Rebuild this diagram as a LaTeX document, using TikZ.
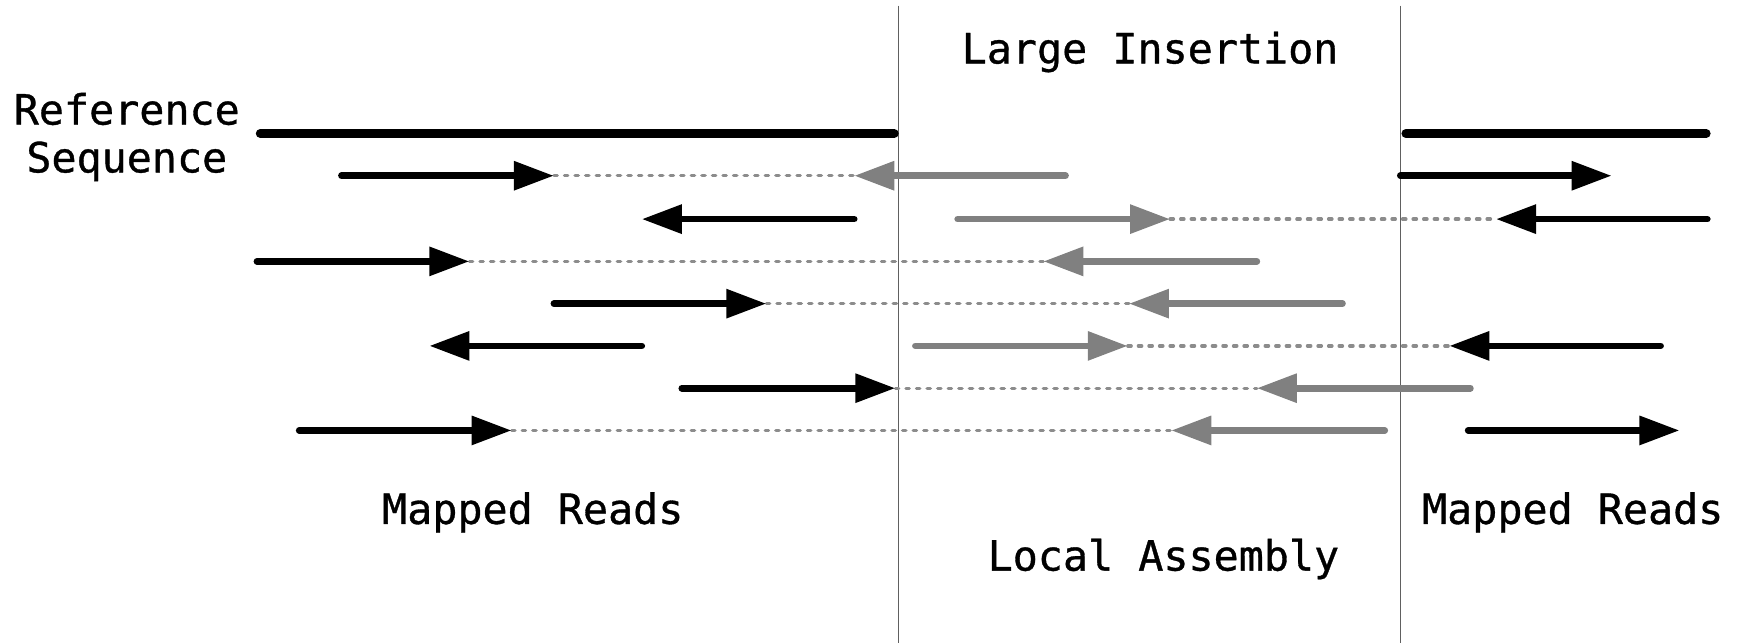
\documentclass[tikz,border=0pt]{standalone}
\usepackage{fontspec}
\setmonofont[FakeBold=0.8]{DejaVu Sans Mono}
\usetikzlibrary{arrows.meta}
\definecolor{readgray}{HTML}{808080}
\definecolor{mategray}{HTML}{8C8C8C}
\definecolor{divgray}{HTML}{606060}
\tikzset{
  lbl/.style={font=\ttfamily\fontsize{37.5}{46}\selectfont, inner sep=0pt, anchor=base},
  refline/.style={line width=8pt, line cap=round},
  readb/.style={line width=6pt, line cap=round, -{Triangle[length=36pt,width=25pt]}},
  readg/.style={readb, readgray},
  mate/.style={line width=3pt, mategray, line cap=round, dash pattern=on 3pt off 6.5pt},
  divider/.style={line width=0.9pt, divgray},
}
\begin{document}
\begin{tikzpicture}[x=1pt,y=-1pt]
\useasboundingbox (0,0) rectangle (1568,578);
% dividers
\coordinate (d1t) at (808,5);   \coordinate (d1b) at (808,578);
\coordinate (d2t) at (1259,5);  \coordinate (d2b) at (1259,578);
\draw[divider] (d1t) -- (d1b);
\draw[divider] (d2t) -- (d2b);
% labels
\node[lbl] (ref1) at (114,112) {Reference};
\node[lbl] (ref2) at (114,155) {Sequence};
\node[lbl] (ins) at (1034,57) {Large Insertion};
\node[lbl] (mapl) at (479,471) {Mapped Reads};
\node[lbl] (mapr) at (1414,471) {Mapped Reads};
\node[lbl] (asm) at (1046,513) {Local Assembly};
% reference sequence
\coordinate (s1) at (234,120); \coordinate (s2) at (804,120);
\coordinate (s3) at (1264,120); \coordinate (s4) at (1534,120);
\draw[refline] (s1) -- (s2);
\draw[refline] (s3) -- (s4);
% row 1
\coordinate (r1a) at (307,158); \coordinate (r1b) at (498,158);
\coordinate (r1c) at (768,158); \coordinate (r1d) at (958,158);
\coordinate (r1e) at (1259,158); \coordinate (r1f) at (1449,158);
\draw[mate] (r1b) -- (r1c);
\draw[readb] (r1a) -- (r1b);
\draw[readg] (r1d) -- (r1c);
\draw[readb] (r1e) -- (r1f);
% row 2
\coordinate (r2a) at (768,197); \coordinate (r2b) at (577,197);
\coordinate (r2c) at (861,197); \coordinate (r2d) at (1052,197);
\coordinate (r2e) at (1345,197); \coordinate (r2f) at (1535,197);
\draw[mate] (r2d) -- (r2e);
\draw[readb] (r2a) -- (r2b);
\draw[readg] (r2c) -- (r2d);
\draw[readb] (r2f) -- (r2e);
% row 3
\coordinate (r3a) at (231,235); \coordinate (r3b) at (422,235);
\coordinate (r3c) at (938,235); \coordinate (r3d) at (1130,235);
\draw[mate] (r3b) -- (r3c);
\draw[readb] (r3a) -- (r3b);
\draw[readg] (r3d) -- (r3c);
% row 4
\coordinate (r4a) at (498,273); \coordinate (r4b) at (689,273);
\coordinate (r4c) at (1015,273); \coordinate (r4d) at (1207,273);
\draw[mate] (r4b) -- (r4c);
\draw[readb] (r4a) -- (r4b);
\draw[readg] (r4d) -- (r4c);
% row 5
\coordinate (r5a) at (577,311); \coordinate (r5b) at (386,311);
\coordinate (r5c) at (823,311); \coordinate (r5d) at (1014,311);
\coordinate (r5e) at (1303,311); \coordinate (r5f) at (1493,311);
\draw[mate] (r5d) -- (r5e);
\draw[readb] (r5a) -- (r5b);
\draw[readg] (r5c) -- (r5d);
\draw[readb] (r5f) -- (r5e);
% row 6
\coordinate (r6a) at (613,349); \coordinate (r6b) at (805,349);
\coordinate (r6c) at (1130,349); \coordinate (r6d) at (1322,349);
\draw[mate] (r6b) -- (r6c);
\draw[readb] (r6a) -- (r6b);
\draw[readg] (r6d) -- (r6c);
% row 7
\coordinate (r7a) at (269,387); \coordinate (r7b) at (460,387);
\coordinate (r7c) at (1053,387); \coordinate (r7d) at (1245,387);
\coordinate (r7e) at (1320,387); \coordinate (r7f) at (1510,387);
\draw[mate] (r7b) -- (r7c);
\draw[readb] (r7a) -- (r7b);
\draw[readg] (r7d) -- (r7c);
\draw[readb] (r7e) -- (r7f);
\end{tikzpicture}
\end{document}
